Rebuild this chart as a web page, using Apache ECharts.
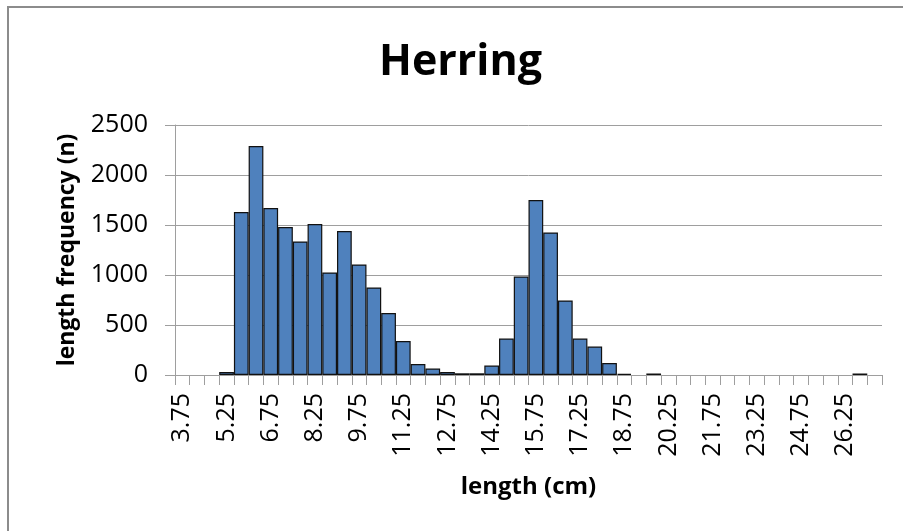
<!DOCTYPE html>
<html>
<head>
<meta charset="utf-8">
<script src="https://cdn.jsdelivr.net/npm/echarts@6/dist/echarts.min.js"></script>
<style>
html,body{margin:0;padding:0;background:#fff;}
#chart{width:903px;height:531px;}
</style>
</head>
<body>
<div id="chart"></div>
<script>
var titleText = "Herring";
var xAxisName = "length (cm)";
var yAxisName = "length frequency (n)";
var categories = ["3.75","4.25","4.75","5.25","5.75","6.25","6.75","7.25","7.75","8.25",
  "8.75","9.25","9.75","10.25","10.75","11.25","11.75","12.25","12.75","13.25",
  "13.75","14.25","14.75","15.25","15.75","16.25","16.75","17.25","17.75","18.25",
  "18.75","19.25","19.75","20.25","20.75","21.25","21.75","22.25","22.75","23.25",
  "23.75","24.25","24.75","25.25","25.75","26.25","26.75","27.25"];
var frequency = [0,0,0,30,1630,2290,1670,1480,1335,1510,
  1025,1440,1105,875,620,340,110,65,30,17,
  17,95,365,985,1750,1425,745,365,285,120,
  12,0,15,0,0,0,0,0,0,0,
  0,0,0,0,0,0,15,0];
var yTicks = [0, 500, 1000, 1500, 2000, 2500];

var FONT = "'Open Sans', sans-serif";
var chart = echarts.init(document.getElementById('chart'), null, {renderer: 'canvas'});
var barData = frequency.map(function (v) {
  return v === 0 ? {value: 0, itemStyle: {borderWidth: 0}} : v;
});
chart.setOption({
  animation: false,
  backgroundColor: '#ffffff',
  title: {
    text: titleText,
    left: 374,
    top: 36,
    textStyle: {fontFamily: FONT, fontWeight: 'bold', fontSize: 43, color: '#000'}
  },
  graphic: [
    {type: 'polyline', shape: {points: [[8, 531], [8, 7], [903, 7]]},
     style: {stroke: '#8c8c8c', lineWidth: 2, fill: null}, silent: true}
  ],
  grid: {left: 175, right: 21, top: 125, bottom: 156, containLabel: false},
  xAxis: {
    type: 'category',
    data: categories,
    name: xAxisName,
    nameLocation: 'middle',
    nameGap: 100,
    nameTextStyle: {fontFamily: FONT, fontWeight: 'bold', fontSize: 24, color: '#000'},
    axisLine: {lineStyle: {color: '#9e9e9e', width: 1}},
    axisTick: {show: true, interval: 0, length: 10, lineStyle: {color: '#9e9e9e'}},
    axisLabel: {interval: 2, rotate: 90, margin: 18, fontFamily: FONT, fontSize: 25, color: '#000'},
    splitLine: {show: false}
  },
  yAxis: {
    type: 'value',
    min: yTicks[0],
    max: yTicks[yTicks.length - 1],
    interval: 500,
    name: yAxisName,
    nameLocation: 'middle',
    nameGap: 96,
    nameTextStyle: {fontFamily: FONT, fontWeight: 'bold', fontSize: 23, color: '#000'},
    axisLine: {show: true, lineStyle: {color: '#9e9e9e', width: 1}},
    axisTick: {show: true, length: 10, inside: false, lineStyle: {color: '#9e9e9e'}},
    axisLabel: {margin: 27, fontFamily: FONT, fontSize: 25, color: '#000',
      formatter: function (v) { return String(v); }},
    splitLine: {show: true, lineStyle: {color: '#9e9e9e', width: 1}}
  },
  series: [{
    type: 'bar',
    data: barData,
    barCategoryGap: '0%',
    itemStyle: {color: '#4F81BD', borderColor: '#111111', borderWidth: 1.2}
  }]
});
</script>
</body>
</html>
